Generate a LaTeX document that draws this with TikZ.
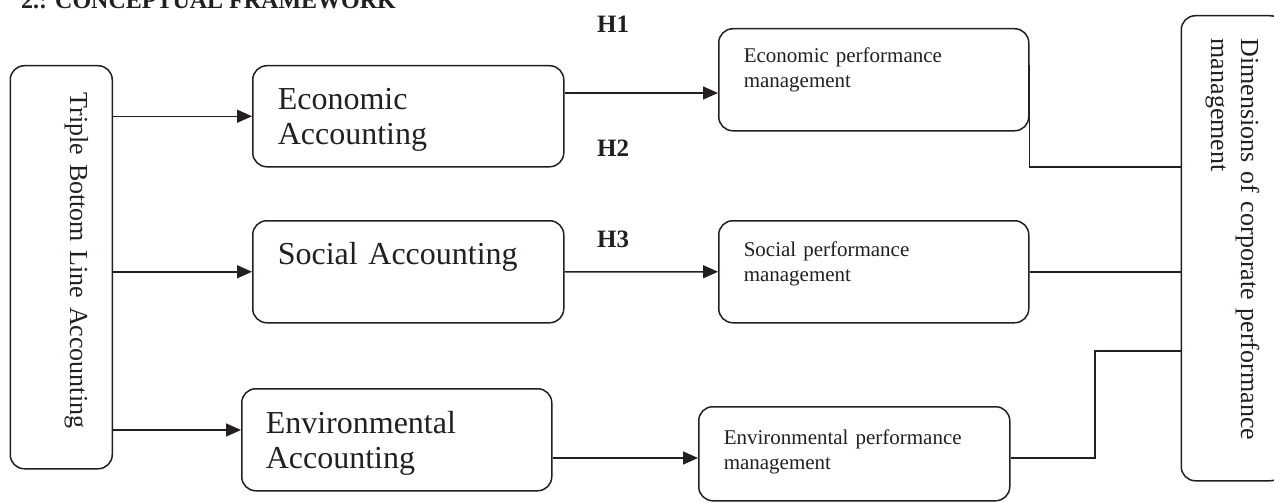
\documentclass[tikz,border=0pt]{standalone}
\usepackage{fontspec}
\setmainfont{Liberation Serif}
\usepackage{tikz}
\usetikzlibrary{arrows.meta}
\definecolor{ink}{RGB}{35, 31, 32}

\begin{document}
\begin{tikzpicture}[x=1pt, y=-1pt,
  rbox/.style={draw=ink, text=ink, line width=1.5pt, rounded corners=14pt, anchor=north west, align=left, inner xsep=25pt},
  bigtxt/.style={font=\fontsize{32}{35}\selectfont, text height=22.4pt},
  smalltxt/.style={font=\fontsize{21}{25}\selectfont, text height=15pt},
  sidetxt/.style={font=\fontsize{26}{30}\selectfont, text height=18.2pt, rotate=-90},
  hlabel/.style={font=\fontsize{25}{28}\selectfont\bfseries, text=ink, anchor=base west, inner sep=0pt},
  arr/.style={draw=ink, line width=1.5pt, -{Triangle[length=15pt,width=13pt]}},
  link/.style={draw=ink, line width=1.5pt}
]
  \clip (0,0) rectangle (1274,503);
  \node[font=\fontsize{24}{28}\selectfont\bfseries, text=ink, anchor=base west, inner sep=0pt] (title) at (21,9) {2.: CONCEPTUAL FRAMEWORK};

  \node[rbox, sidetxt, text width=349pt, inner xsep=27pt, inner ysep=24pt, text depth=35.8pt] (tbl) at (113,65) {Triple Bottom Line Accounting};
  \node[rbox, sidetxt, text width=419pt, inner xsep=23pt, inner ysep=25pt, text depth=34.8pt] (dims) at (1285,15) {Dimensions of corporate performance\\management};

  \node[rbox, bigtxt, text width=261pt, inner ysep=21.8pt, text depth=35pt] (econ) at (252,65) {Economic\\Accounting};
  \node[rbox, bigtxt, text width=261pt, inner ysep=21.8pt, text depth=36pt] (social) at (252,220) {Social Accounting};
  \node[rbox, bigtxt, text width=262pt, inner xsep=24pt, inner ysep=22.8pt, text depth=34pt] (env) at (241,388) {Environmental\\Accounting};

  \node[rbox, smalltxt, text width=260pt, inner ysep=18.9pt, text depth=49.2pt] (econperf) at (718,28) {Economic performance\\management};
  \node[rbox, smalltxt, text width=260pt, inner ysep=20.9pt, text depth=45.2pt] (socialperf) at (718,220) {Social performance\\management};
  \node[rbox, smalltxt, text width=261pt, inner ysep=22.9pt, text depth=33.2pt] (envperf) at (698,406) {Environmental performance\\management};

  \node[hlabel] (h1) at (597,33) {H1};
  \node[hlabel] (h2) at (597,156) {H2};
  \node[hlabel] (h3) at (597,247) {H3};

  \draw[arr] (tbl.north |- econ.west) -- (econ.west);
  \draw[arr] (tbl.north |- social.west) -- (social.west);
  \draw[arr] (tbl.north |- 0,430) -- (env.west |- 0,430);
  \draw[arr] (econ.east |- 0,93) -- (econperf.west |- 0,93);
  \draw[arr] (social.east) -- (socialperf.west);
  \draw[arr] (env.east |- 0,458) -- (envperf.west |- 0,458);
  \draw[link] (econperf.east |- 0,65) -- (econperf.east |- 0,167) -- (dims.south |- 0,167);
  \draw[link] (socialperf.east) -- (dims.south |- socialperf.east);
  \draw[link] (envperf.east |- 0,458) -| (1095,351) -- (dims.south |- 0,351);
\end{tikzpicture}
\end{document}
